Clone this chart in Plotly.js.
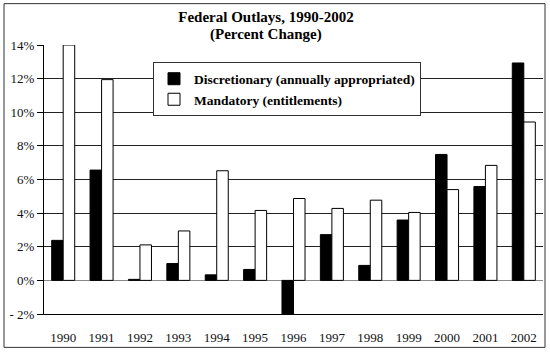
<!DOCTYPE html>
<html>
<head>
<meta charset="utf-8">
<script src="https://cdn.plot.ly/plotly-3.0.1.min.js"></script>
<style>html,body{margin:0;padding:0;background:#fff;}#chart{width:550px;height:354px;}</style>
</head>
<body>
<div id="chart"></div>
<script>
const years = ['1990','1991','1992','1993','1994','1995','1996','1997','1998','1999','2000','2001','2002'];
const discretionary = [2.38, 6.56, 0.06, 1.0, 0.33, 0.65, -2.09, 2.72, 0.89, 3.59, 7.49, 5.58, 12.93];
const mandatory = [14.0, 11.94, 2.11, 2.94, 6.52, 4.16, 4.87, 4.28, 4.77, 4.04, 5.40, 6.84, 9.42];
const yTickVals = [-2, 0, 2, 4, 6, 8, 10, 12, 14];
const yTickText = ['- 2%', '0%', '2%', '4%', '6%', '8%', '10%', '12%', '14%'];
const titleLine1 = 'Federal Outlays, 1990-2002';
const titleLine2 = '(Percent Change)';

const serif = '"Liberation Serif", "Times New Roman", serif';
const W = 550, H = 354;
const m = {l: 44, r: 7, t: 44.5, b: 39.5};
const pw = W - m.l - m.r, ph = H - m.t - m.b;
function px(x) { return (x - m.l) / pw; }
function py(y) { return (H - m.b - y) / ph; }

const data = [
  {type: 'bar', name: 'Discretionary (annually appropriated)', x: years, y: discretionary,
   marker: {color: '#000', line: {color: '#000', width: 1}}},
  {type: 'bar', name: 'Mandatory (entitlements)', x: years, y: mandatory,
   marker: {color: '#fff', line: {color: '#000', width: 1}}}
];

const layout = {
  width: W, height: H,
  margin: m,
  paper_bgcolor: '#fff', plot_bgcolor: '#fff',
  barmode: 'group', bargap: 0.4, bargroupgap: 0,
  font: {family: serif, color: '#111', size: 13},
  title: {
    text: '<b>' + titleLine1 + '</b>',
    font: {family: serif, size: 15, color: '#000'},
    x: 266 / W, xref: 'container', xanchor: 'center',
    y: 1 - 16.5 / H, yref: 'container', yanchor: 'middle'
  },
  annotations: [
    {text: '<b>' + titleLine2 + '</b>', xref: 'paper', yref: 'paper',
     x: px(266), y: py(33.5), xanchor: 'center', yanchor: 'middle',
     showarrow: false, font: {family: serif, size: 15, color: '#000'}}
  ],
  xaxis: {
    type: 'category', showline: true, linecolor: '#000', linewidth: 1,
    ticks: '', showgrid: false, zeroline: false,
    tickfont: {family: serif, size: 13, color: '#111'},
    ticklabelstandoff: 11,
    fixedrange: true
  },
  yaxis: {
    range: [-2, 14], tickvals: yTickVals, ticktext: yTickText,
    showline: true, linecolor: '#000', linewidth: 1,
    ticks: 'outside', ticklen: 6, tickcolor: '#000',
    showgrid: true, gridcolor: '#222', gridwidth: 1,
    zeroline: true, zerolinecolor: '#888', zerolinewidth: 1,
    tickfont: {family: serif, size: 13, color: '#111'},
    fixedrange: true
  },
  legend: {
    x: px(153), y: py(62), xanchor: 'left', yanchor: 'top',
    bgcolor: '#fff', bordercolor: '#333', borderwidth: 1,
    font: {family: serif, size: 13.5, color: '#000', weight: 'bold'},
    tracegroupgap: 0, itemwidth: 30
  },
  shapes: [
    {type: 'rect', xref: 'paper', yref: 'paper',
     x0: px(4), x1: px(545), y0: py(348), y1: py(3),
     line: {color: '#333', width: 1}, fillcolor: 'rgba(0,0,0,0)', layer: 'below'}
  ],
  showlegend: true
};

Plotly.newPlot('chart', data, layout, {displayModeBar: false, staticPlot: true});
</script>
</body>
</html>
